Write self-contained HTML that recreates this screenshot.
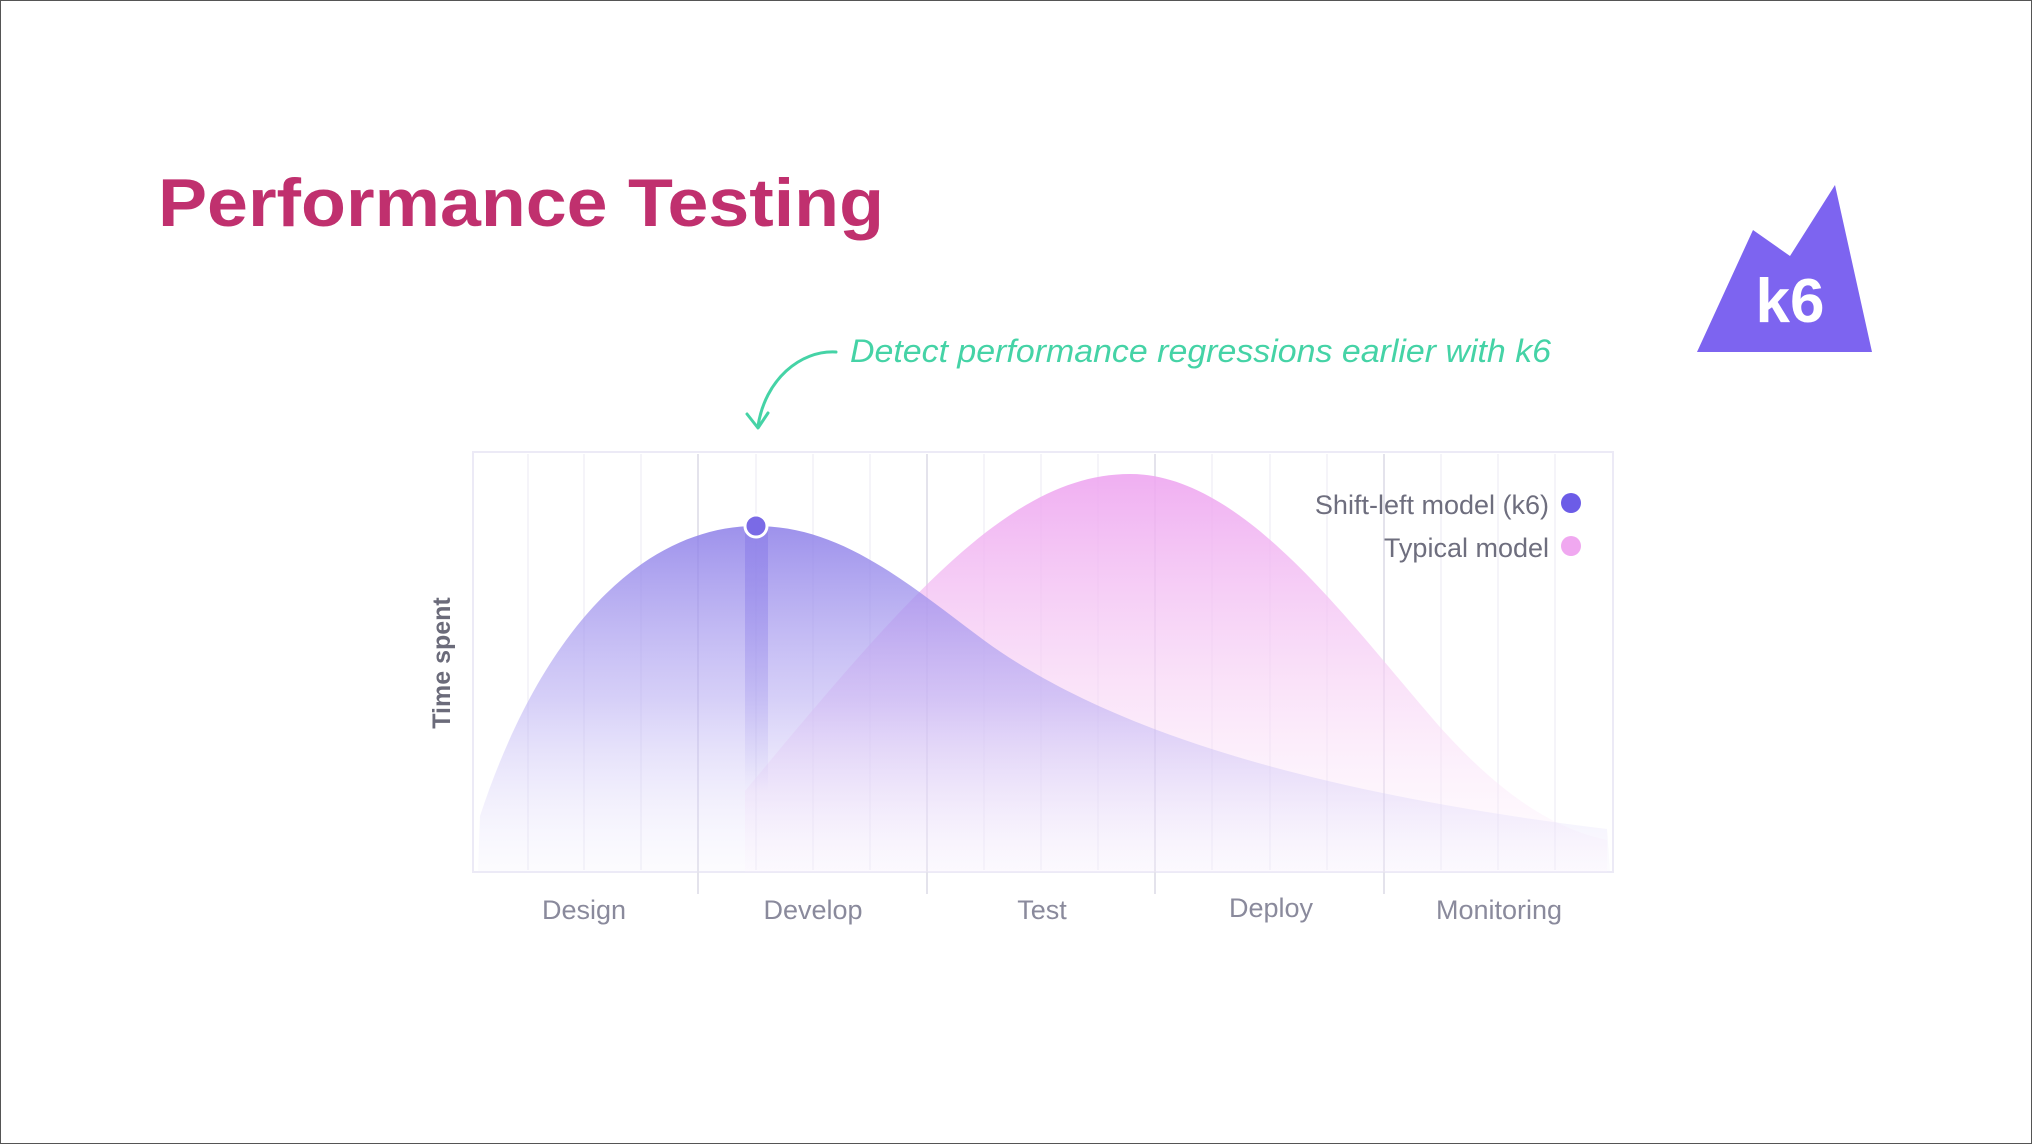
<!DOCTYPE html>
<html><head><meta charset="utf-8"><style>
html,body{margin:0;padding:0;background:#fff;}
body{width:2032px;height:1144px;overflow:hidden;position:relative;}
svg{position:absolute;left:0;top:0;}
</style></head><body>
<svg width="2032" height="1144" viewBox="0 0 2032 1144" xmlns="http://www.w3.org/2000/svg">
<defs>
<linearGradient id="gp" x1="0" y1="0" x2="0" y2="1" gradientUnits="objectBoundingBox">
<stop offset="0" stop-color="#8c7ee8" stop-opacity="0.85"/>
<stop offset="0.5" stop-color="#b4a8f2" stop-opacity="0.55"/>
<stop offset="1" stop-color="#ece8fb" stop-opacity="0.15"/>
</linearGradient>
<linearGradient id="gk" x1="0" y1="0" x2="0" y2="1">
<stop offset="0" stop-color="#eea6f0" stop-opacity="0.9"/>
<stop offset="0.6" stop-color="#f8d8f6" stop-opacity="0.6"/>
<stop offset="1" stop-color="#fdf2fc" stop-opacity="0.2"/>
</linearGradient>
<linearGradient id="gb" x1="0" y1="0" x2="0" y2="1">
<stop offset="0" stop-color="#8a7ce8" stop-opacity="0.6"/>
<stop offset="1" stop-color="#8a7ce8" stop-opacity="0"/>
</linearGradient>
</defs>
<rect x="0.5" y="0.5" width="2031" height="1143" fill="#fff" stroke="#555" stroke-width="1"/>
<text x="158" y="226" font-family="Liberation Sans, sans-serif" font-weight="bold" font-size="68" fill="#c0306e" textLength="726" lengthAdjust="spacingAndGlyphs">Performance Testing</text>
<polygon points="1697,352 1753,230 1790,256 1835,185 1872,352" fill="#7d64f0"/>
<text x="1790" y="322" text-anchor="middle" font-family="Liberation Sans, sans-serif" font-weight="bold" font-size="62" fill="#fff">k6</text>
<text x="850" y="362" font-family="Liberation Sans, sans-serif" font-style="italic" font-size="32" fill="#45d3a6" textLength="701" lengthAdjust="spacingAndGlyphs">Detect performance regressions earlier with k6</text>
<path d="M836,352 C800,350 765,380 758,426" fill="none" stroke="#45d3a6" stroke-width="3" stroke-linecap="round"/>
<path d="M747,414 L758,428 L768,413" fill="none" stroke="#45d3a6" stroke-width="3" stroke-linecap="round" stroke-linejoin="round"/>
<rect x="473" y="452" width="1140" height="420" fill="none" stroke="#eceaf6" stroke-width="2"/>
<g stroke="#f2f1f7" stroke-width="1.5">
<line x1="528" y1="454" x2="528" y2="870"/><line x1="584" y1="454" x2="584" y2="870"/><line x1="641" y1="454" x2="641" y2="870"/>
<line x1="756" y1="454" x2="756" y2="870"/><line x1="813" y1="454" x2="813" y2="870"/><line x1="870" y1="454" x2="870" y2="870"/>
<line x1="984" y1="454" x2="984" y2="870"/><line x1="1041" y1="454" x2="1041" y2="870"/><line x1="1098" y1="454" x2="1098" y2="870"/>
<line x1="1212" y1="454" x2="1212" y2="870"/><line x1="1270" y1="454" x2="1270" y2="870"/><line x1="1327" y1="454" x2="1327" y2="870"/>
<line x1="1441" y1="454" x2="1441" y2="870"/><line x1="1498" y1="454" x2="1498" y2="870"/><line x1="1555" y1="454" x2="1555" y2="870"/>
</g>
<g stroke="#e4e3ec" stroke-width="2">
<line x1="698" y1="454" x2="698" y2="894"/><line x1="927" y1="454" x2="927" y2="894"/>
<line x1="1155" y1="454" x2="1155" y2="894"/><line x1="1384" y1="454" x2="1384" y2="894"/>
</g>
<path d="M745,791 C907,596 1011,474 1130,474 C1244,474 1348,622 1439,726 C1503,797 1555,829 1607,840 L1607,872 L745,872 Z" fill="url(#gk)"/>
<path d="M480,816 C544,622 648,526 756,526 C842,526 907,583 985,641 C1102,726 1296,791 1607,829 L1610,872 L478,872 Z" fill="url(#gp)"/>
<rect x="745" y="526" width="23" height="266" fill="url(#gb)"/>
<circle cx="756" cy="526" r="11" fill="#7a6ae6" stroke="#fff" stroke-width="3"/>
<text x="1549" y="514" text-anchor="end" font-family="Liberation Sans, sans-serif" font-size="27" fill="#6e6e7e">Shift-left model (k6)</text>
<circle cx="1571" cy="503" r="10" fill="#6c5ce7"/>
<text x="1549" y="557" text-anchor="end" font-family="Liberation Sans, sans-serif" font-size="27" fill="#6e6e7e">Typical model</text>
<circle cx="1571" cy="546" r="10" fill="#f0a8f0"/>
<text transform="translate(450,663) rotate(-90)" text-anchor="middle" font-family="Liberation Sans, sans-serif" font-weight="bold" font-size="25" fill="#6b6b7a">Time spent</text>
<g font-family="Liberation Sans, sans-serif" font-size="27" fill="#8a8a9c" text-anchor="middle">
<text x="584" y="919">Design</text><text x="813" y="919">Develop</text><text x="1042" y="919">Test</text>
<text x="1271" y="917">Deploy</text><text x="1499" y="919">Monitoring</text>
</g>
</svg>
</body></html>
